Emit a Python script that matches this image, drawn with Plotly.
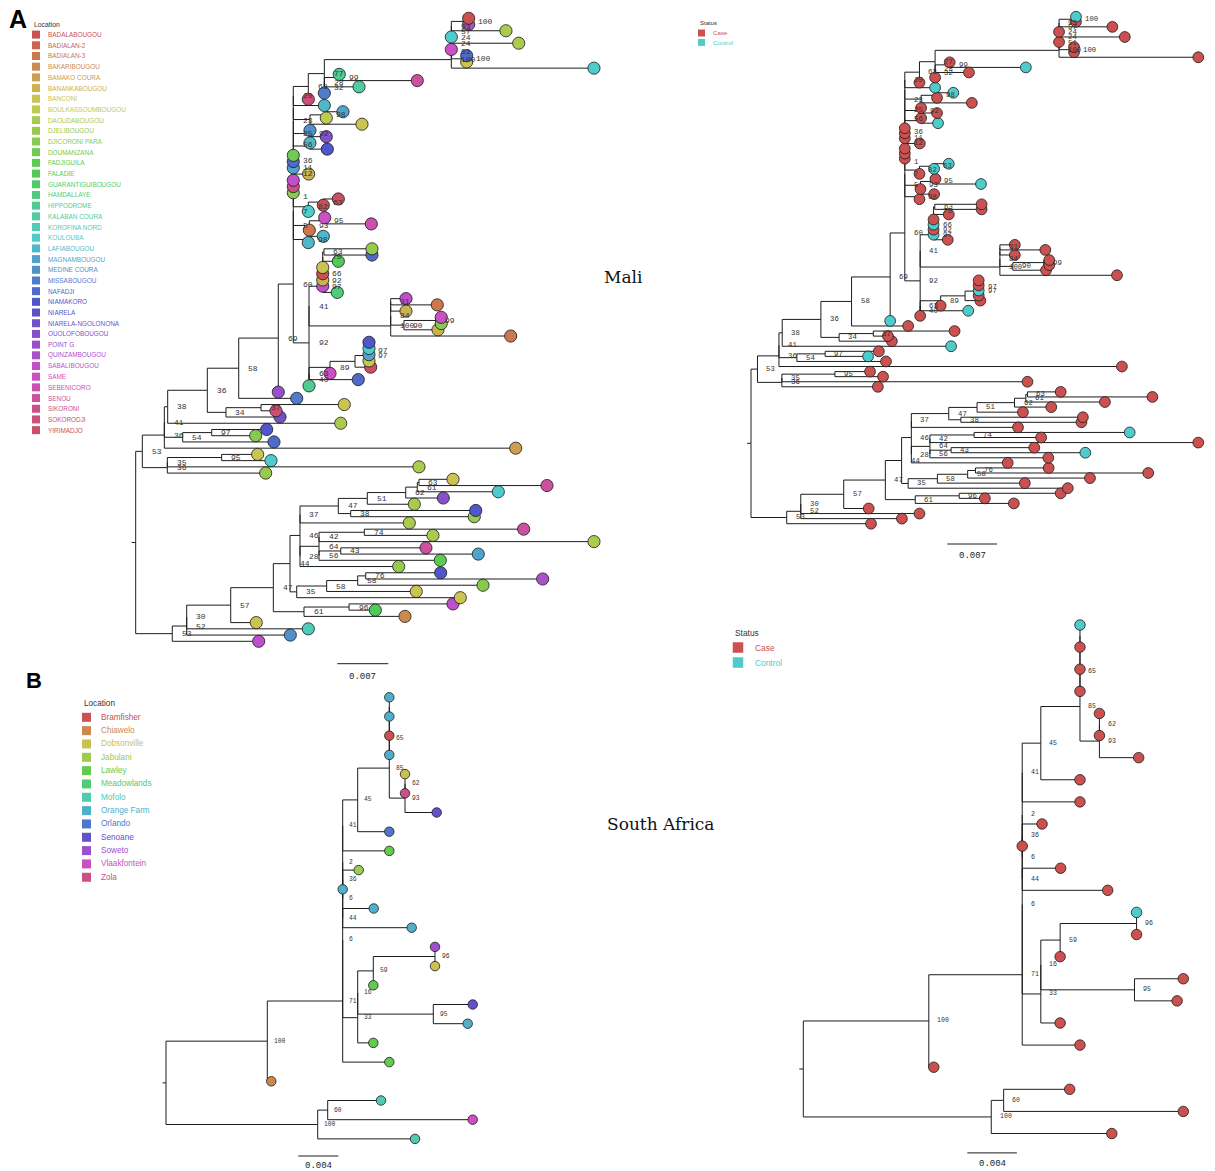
import colorsys
import plotly.graph_objects as go

W, H = 1215, 1171
BL_UNIT = 1e-4  # branch lengths in the Newick strings are in 1e-4 substitutions/site

# ---------------- Mali phylogeny (internal labels = bootstrap support) ----------------
MALI_TOP_CLADE = ("(((((((m00:0,m01:0)100:23.8,m02:75.0)93:0,m03:0)57:0,m04:92.5)24:0,m05:0)24:0,"
                  "(m06:0,m07:0)100:21.1)51:0,m08:195.8)100")
MALI_C1_CLADE = "(((m09:0,m10:107.1)99:20.5,m11:47.6)28:0,m12:0)32"
MALI_B1_CLADE = f"(({MALI_TOP_CLADE}:174.3,{MALI_C1_CLADE}:0)77:22.0,m13:0)63"
MALI_SPINE = ("(" * 14 + MALI_B1_CLADE +
              ":20.6,m14:42.6)20"
              ":0,((m15:22.9,m16:0)98:22.4,m17:71.4):22.9)"
              ":0,(m18:0,m19:22.4)92:22.9)23"
              ":0,(m20:0,m21:23.8):22.9)25"
              ":0,m22:0)56"
              ":0,m23:0)"
              ":0,m24:0)36"
              ":0,m25:21.1)11"
              ":0,m26:0)12"
              ":0,m27:0)"
              ":0,m28:0)"
              ":0,((m29:20.6,m30:0)63:20.6,m31:0)82:20.6)1"
              ":0,((m32:0,m33:64.0)95:21.1,m34:0)93:22.0)7"
              ":0,(m35:20.6,m36:0)98:20.6)5")
MALI_A9_CLADE = "(((((((m37:65.9,m38:65.9)63:1.7,m39:21.4)75:0,m40:0):0,m41:0):0,m42:0)66:0,m43:0)92:0,m44:20.0)97"
MALI_A10_CLADE = "((((m45:21.0,m46:63.9)31:0,m47:21.0):0,((m48:7.6,m49:7.6)99:43.6,m50:46.7)90:18.2)84:0,m51:164.7)100"
MALI_A8B_CLADE = "(((((((m52:0,m53:0):0,m54:0)97:0,m55:0)97:19.2,m56:21.5):34.3,m57:0)89:28.8,m58:67.6)63:0,m59:0)40"
MALI_A8_CLADE = f"(({MALI_A9_CLADE}:18.8,{MALI_A10_CLADE}:112.1)41:0,{MALI_A8B_CLADE}:0)92"
MALI_N7_CLADE = "((m62:114.3,m63:20.6)37:48.1,m64:74.2)34"
MALI_N3_CLADE = (f"((((({MALI_SPINE}:0,{MALI_A8_CLADE}:21.6)60:20.6,m60:0)69:54.3,m61:79.6)58:43.1,"
                 f"{MALI_N7_CLADE}:25.6)36:54.4,m65:237.5)38")
MALI_N4_CLADE = "((m66:75.5,m67:60.4)97:39.8,m68:125.3)54"
MALI_NB_CLADE = "(((m70:49.4,m71:67.7)95:74.6,m72:345.4)35:0,m73:135.0)36"
MALI_N1_CLADE = f"((({MALI_N3_CLADE}:4.6,{MALI_N4_CLADE}:25.2)41:0,m69:482.3)36:30.2,{MALI_NB_CLADE}:34.3)53"
MALI_S14_CLADE = "((((m74:46.7,m75:175.7)63:2.3,m76:111.2)61:15.9,m77:51.6)62:52.7,m78:64.5)51"
MALI_S15_CLADE = "(m79:171.6,m80:169.6)38"
MALI_S7A_CLADE = f"(({MALI_S14_CLADE}:39.8,{MALI_S15_CLADE}:17.0)47:52.6,m81:150.0)37"
MALI_S13_CLADE = "(((m82:218.7,m83:94.2)74:62.2,m84:377.4)42:0,((m85:117.0,m86:188.8)43:29.8,m87:166.5)56:0)64"
MALI_S8_CLADE = "((((m89:102.9,m90:242.9)76:11.0,m91:172.0)58:42.6,m92:123.0)58:41.1,m93:224.5)35"
MALI_S6_CLADE = "((m94:142.7,m95:36.1)96:61.8,m96:138.6)61"
MALI_S1_CLADE = (f"((((((({MALI_S7A_CLADE}:0,({MALI_S13_CLADE}:26.1,m88:135.5)28:0)46:13.7,"
                 f"{MALI_S8_CLADE}:9.2)44:22.9,{MALI_S6_CLADE}:42.1)47:58.5,m97:35.1)57:60.4,"
                 f"m98:166.9)30:0,m99:142.2)52:19.8,m100:118.6)53")
MALI_NEWICK = f"({MALI_N1_CLADE}:9.1,{MALI_S1_CLADE}:50.2);"

MALI_LOCATIONS = ["BADALABOUGOU", "BADIALAN-2", "BADIALAN-3", "BAKARIBOUGOU", "BAMAKO COURA",
                  "BANANKABOUGOU", "BANCONI", "BOULKASSOUMBOUGOU", "DAOUDABOUGOU", "DJELIBOUGOU",
                  "DJICORONI PARA", "DOUMANZANA", "FADJIGUILA", "FALADIE", "GUARANTIGUIBOUGOU",
                  "HAMDALLAYE", "HIPPODROME", "KALABAN COURA", "KOROFINA NORD", "KOULOUBA",
                  "LAFIABOUGOU", "MAGNAMBOUGOU", "MEDINE COURA", "MISSABOUGOU", "NAFADJI",
                  "NIAMAKORO", "NIARELA", "NIARELA-NGOLONONA", "OUOLOFOBOUGOU", "POINT G",
                  "QUINZAMBOUGOU", "SABALIBOUGOU", "SAME", "SEBENICORO", "SENOU",
                  "SIKORONI", "SOKORODJI", "YIRIMADJO"]
MALI_TIP_LOCATION = [
    "BADALABOUGOU", "QUINZAMBOUGOU", "DAOUDABOUGOU", "KOULOUBA", "DAOUDABOUGOU",
    "SAME", "NAFADJI", "BANCONI", "KOULOUBA", "HIPPODROME",
    "SENOU", "KALABAN COURA", "MISSABOUGOU", "SOKORODJI", "LAFIABOUGOU",
    "MAGNAMBOUGOU", "BOULKASSOUMBOUGOU", "BANCONI", "MEDINE COURA", "OUOLOFOBOUGOU",
    "LAFIABOUGOU", "NIAMAKORO", "DOUMANZANA", "NAFADJI", "MAGNAMBOUGOU",
    "BANANKABOUGOU", "SABALIBOUGOU", "SIKORONI", "DJICORONI PARA", "YIRIMADJO",
    "BADALABOUGOU", "KOULOUBA", "SAME", "SEBENICORO", "BADIALAN-3",
    "LAFIABOUGOU", "LAFIABOUGOU", "DJELIBOUGOU", "NAFADJI", "FALADIE",
    "BANCONI", "BADALABOUGOU", "BANANKABOUGOU", "SABALIBOUGOU", "HAMDALLAYE",
    "SABALIBOUGOU", "BADIALAN-3", "BANANKABOUGOU", "SAME", "DJICORONI PARA",
    "BANANKABOUGOU", "BADIALAN-3", "NIAMAKORO", "KOULOUBA", "MAGNAMBOUGOU",
    "BANCONI", "YIRIMADJO", "SAME", "NAFADJI", "HIPPODROME",
    "POINT G", "MISSABOUGOU", "BANCONI", "SOKORODJI", "NIARELA-NGOLONONA",
    "DAOUDABOUGOU", "NIAMAKORO", "DJICORONI PARA", "NAFADJI", "BAMAKO COURA",
    "BANCONI", "KOULOUBA", "DAOUDABOUGOU", "DJELIBOUGOU", "BANCONI",
    "SENOU", "KOULOUBA", "OUOLOFOBOUGOU", "DAOUDABOUGOU", "NIAMAKORO",
    "DJELIBOUGOU", "DAOUDABOUGOU", "SENOU", "DAOUDABOUGOU", "DAOUDABOUGOU",
    "SENOU", "MAGNAMBOUGOU", "FADJIGUILA", "DJELIBOUGOU", "NIAMAKORO",
    "QUINZAMBOUGOU", "DJICORONI PARA", "BANCONI", "BANCONI", "SABALIBOUGOU",
    "FALADIE", "BAKARIBOUGOU", "BANCONI", "KOROFINA NORD", "MEDINE COURA",
    "SABALIBOUGOU"]
MALI_CONTROL_TIPS = ["m00", "m10", "m14", "m15", "m21", "m29", "m30", "m33", "m41", "m43",
                     "m54", "m58", "m60", "m65", "m67", "m82", "m86"]

# ---------------- South Africa phylogeny ----------------
SA_C_CLADE = "(((((z00:0,z01:0):0,z02:0):0,z03:0)65:0,((z04:0,z05:0)62:0,z06:31.7)93:15.7)85:31.6,z07:31.6)45"
SA_R_CLADE = "((z09:16.0,z10:0)36:0,(z11:31.0,z12:69.0)44:0)6"
SA_D_CLADE = "((((z13:0,z14:0)96:61.7,z15:0)59:15.6,(z16:39.4,z17:34.4)95:75.6)16:0,z18:15.6)33"
SA_M_CLADE = "((z21:53.3,z22:145.0)60:10.0,z23:97.3)100"
SA_NEWICK = (f"(((((({SA_C_CLADE}:15.0,z08:46.6)41:0,{SA_R_CLADE}:0)2:0,{SA_D_CLADE}:15.0)6:0,"
             f"z19:46.6)71:75.4,z20:4.0)100:101.3,{SA_M_CLADE}:151.7);")

SA_LOCATIONS = ["Bramfisher", "Chiawelo", "Dobsonville", "Jabulani", "Lawley", "Meadowlands",
                "Mofolo", "Orange Farm", "Orlando", "Senoane", "Soweto", "Vlaakfontein", "Zola"]
SA_TIP_LOCATION = ["Orange Farm", "Orange Farm", "Bramfisher", "Orange Farm", "Dobsonville",
                   "Zola", "Senoane", "Orlando", "Lawley", "Jabulani", "Orange Farm",
                   "Orange Farm", "Orange Farm", "Soweto", "Dobsonville", "Lawley", "Senoane",
                   "Orange Farm", "Lawley", "Lawley", "Chiawelo", "Mofolo", "Vlaakfontein", "Mofolo"]
SA_CONTROL_TIPS = ["z00", "z13"]

STATUS_LEVELS = ["Case", "Control"]
SCALE_MALI = 0.007
SCALE_SA = 0.004


# ---------------- helpers ----------------
def parse_newick(s):
    pos = 0

    def node():
        nonlocal pos
        n = {"children": [], "name": "", "len": 0.0}
        if s[pos] == "(":
            pos += 1
            while True:
                n["children"].append(node())
                if s[pos] == ",":
                    pos += 1
                    continue
                pos += 1  # ')'
                break
        st = pos
        while s[pos] not in ":,);":
            pos += 1
        n["name"] = s[st:pos]
        if s[pos] == ":":
            pos += 1
            st = pos
            while s[pos] not in ",);":
                pos += 1
            n["len"] = float(s[st:pos])
        return n

    return node()


def layout_tree(root):
    nodes, tips = [], []

    def walk(n, x):
        n["x"] = x
        nodes.append(n)
        if n["children"]:
            for c in n["children"]:
                walk(c, x + c["len"] * BL_UNIT)
            n["y"] = sum(c["y"] for c in n["children"]) / len(n["children"])
        else:
            n["y"] = len(tips)
            tips.append(n)

    walk(root, 0.0)
    return nodes, tips


def palette(n):
    out = []
    for i in range(n):
        r, g, b = colorsys.hls_to_rgb(i / n, 0.555, 0.54)
        out.append("#%02x%02x%02x" % (round(r * 255), round(g * 255), round(b * 255)))
    return out


def px(xp):
    return xp / W


def py(yp):
    return 1 - yp / H


mali_root = parse_newick(MALI_NEWICK)
mali_nodes, mali_tips = layout_tree(mali_root)
sa_root = parse_newick(SA_NEWICK)
sa_nodes, sa_tips = layout_tree(sa_root)
assert [t["name"] for t in mali_tips] == [f"m{i:02d}" for i in range(101)]
assert [t["name"] for t in sa_tips] == [f"z{i:02d}" for i in range(24)]

MALI_COLORS = dict(zip(MALI_LOCATIONS, palette(len(MALI_LOCATIONS))))
SA_COLORS = dict(zip(SA_LOCATIONS, palette(len(SA_LOCATIONS))))
STATUS_COLORS = dict(zip(STATUS_LEVELS, palette(2)))

TREES = {
    "mali": (mali_root, mali_nodes, mali_tips, MALI_TIP_LOCATION, MALI_CONTROL_TIPS, MALI_COLORS),
    "sa": (sa_root, sa_nodes, sa_tips, SA_TIP_LOCATION, SA_CONTROL_TIPS, SA_COLORS),
}

PANELS = [
    dict(ax="", tree="mali", by="location", x0=135.7, pxu=7285.7, y0=18.3, dy=6.23, ms=12.2,
         lab=8.0, ldx=8.5, root_px=4, bar=(337.3, 663.7, 676.5), scale=SCALE_MALI),
    dict(ax="2", tree="mali", by="status", x0=751.0, pxu=7111.0, y0=16.7, dy=5.07, ms=10.8,
         lab=7.3, ldx=8.0, root_px=4, bar=(947.3, 544.0, 555.5), scale=SCALE_MALI),
    dict(ax="3", tree="sa", by="location", x0=166.0, pxu=10000.0, y0=697.3, dy=19.2, ms=9.5,
         lab=6.3, ldx=5.5, root_px=3.3, bar=(298.3, 1156.0, 1165.5), scale=SCALE_SA),
    dict(ax="4", tree="sa", by="status", x0=803.3, pxu=12390.0, y0=625.0, dy=22.11, ms=10.5,
         lab=6.6, ldx=7.5, root_px=4, bar=(967.3, 1152.9, 1163.6), scale=SCALE_SA),
]

fig = go.Figure()
annotations = []
shapes = []
layout_axes = {}

for p in PANELS:
    root, nodes, tips, tip_loc, controls, loc_colors = TREES[p["tree"]]
    xa, ya = "x" + p["ax"], "y" + p["ax"]
    # edges
    xs, ys = [], []
    for n in nodes:
        for c in n["children"]:
            xs += [n["x"], n["x"], c["x"], None]
            ys += [n["y"], c["y"], c["y"], None]
    xs += [-p["root_px"] / p["pxu"], 0, None]
    ys += [root["y"], root["y"], None]
    fig.add_trace(go.Scatter(x=xs, y=ys, mode="lines", xaxis=xa, yaxis=ya,
                             line=dict(color="#1c1c1c", width=1), hoverinfo="skip",
                             showlegend=False))
    # tips
    if p["by"] == "location":
        cols = [loc_colors[l] for l in tip_loc]
        hov = tip_loc
    else:
        stat = ["Control" if t["name"] in controls else "Case" for t in tips]
        cols = [STATUS_COLORS[s] for s in stat]
        hov = stat
    order = list(range(len(tips)))[::-1]
    fig.add_trace(go.Scatter(
        x=[tips[i]["x"] for i in order], y=[tips[i]["y"] for i in order],
        mode="markers", xaxis=xa, yaxis=ya, cliponaxis=False,
        marker=dict(size=p["ms"], color=[cols[i] for i in order],
                    line=dict(color="#1a1a1a", width=0.8)),
        text=[hov[i] for i in order], hoverinfo="text", showlegend=False))
    # support labels
    for n in nodes:
        if n["children"] and n["name"]:
            annotations.append(dict(x=n["x"], y=n["y"], xref=xa, yref=ya, text=n["name"],
                                    showarrow=False, xanchor="left", yanchor="middle",
                                    xshift=p["ldx"], borderpad=0,
                                    font=dict(family="Liberation Mono", size=p["lab"],
                                              color="#333333")))
    # axes mapping
    layout_axes["xaxis" + p["ax"]] = dict(
        domain=[0, 1], range=[-p["x0"] / p["pxu"], (W - p["x0"]) / p["pxu"]],
        visible=False, fixedrange=True, anchor=ya)
    layout_axes["yaxis" + p["ax"]] = dict(
        domain=[0, 1], range=[(H - p["y0"]) / p["dy"], -p["y0"] / p["dy"]],
        visible=False, fixedrange=True, anchor=xa)
    # scale bar
    bx, by, ty = p["bar"]
    xstart = (bx - p["x0"]) / p["pxu"]
    shapes.append(dict(type="line", xref=xa, yref="paper", x0=xstart, x1=xstart + p["scale"],
                       y0=py(by), y1=py(by), line=dict(color="#1c1c1c", width=1)))
    annotations.append(dict(x=xstart + p["scale"] / 2, y=py(ty), xref=xa, yref="paper",
                            text=f"{p['scale']:.3f}", showarrow=False, xanchor="center",
                            yanchor="middle",
                            font=dict(family="Liberation Mono", size=9, color="#222222")))


def legend(title, items, colors, x_sq, y_first, step, sq, x_text, title_y, fsize, tsize):
    annotations.append(dict(x=px(x_sq - sq / 2), y=py(title_y), xref="paper", yref="paper",
                            text=title, showarrow=False, xanchor="left", yanchor="middle",
                            font=dict(family="Liberation Sans", size=tsize, color="#333333")))
    for k, name in enumerate(items):
        yc = y_first + step * k
        shapes.append(dict(type="rect", xref="paper", yref="paper",
                           x0=px(x_sq - sq / 2), x1=px(x_sq + sq / 2),
                           y0=py(yc + sq / 2), y1=py(yc - sq / 2),
                           fillcolor=colors[name], line=dict(width=0)))
        annotations.append(dict(x=px(x_text), y=py(yc), xref="paper", yref="paper", text=name,
                                showarrow=False, xanchor="left", yanchor="middle",
                                font=dict(family="Liberation Sans", size=fsize,
                                          color=colors[name])))


legend("Location", MALI_LOCATIONS, MALI_COLORS, 36.0, 34.6, 10.69, 8, 45.5, 24.3, 6.4, 6.8)
legend("Status", STATUS_LEVELS, STATUS_COLORS, 701.5, 33.0, 9.4, 7, 711.0, 22.6, 6.2, 6.0)
legend("Location", SA_LOCATIONS, SA_COLORS, 86.5, 717.3, 13.33, 9, 98.5, 704.0, 8.2, 8.2)
legend("Status", STATUS_LEVELS, STATUS_COLORS, 738.0, 647.5, 15.0, 10.5, 752.5, 632.7, 8.4, 8.4)

# panel letters and country titles
annotations.append(dict(x=px(17.5), y=py(18.5), xref="paper", yref="paper", text="<b>A</b>",
                        showarrow=False, xanchor="center", yanchor="middle",
                        font=dict(family="Liberation Sans", size=25, color="#000000")))
annotations.append(dict(x=px(33.5), y=py(680.0), xref="paper", yref="paper", text="<b>B</b>",
                        showarrow=False, xanchor="center", yanchor="middle",
                        font=dict(family="Liberation Sans", size=22, color="#000000")))
annotations.append(dict(x=px(623.5), y=py(277.5), xref="paper", yref="paper", text="Mali",
                        showarrow=False, xanchor="center", yanchor="middle",
                        font=dict(family="DejaVu Serif", size=17, color="#111111")))
annotations.append(dict(x=px(661.0), y=py(823.5), xref="paper", yref="paper", text="South Africa",
                        showarrow=False, xanchor="center", yanchor="middle",
                        font=dict(family="DejaVu Serif", size=17, color="#111111")))

fig.update_layout(width=W, height=H, autosize=False,
                  margin=dict(l=0, r=0, t=0, b=0, pad=0),
                  paper_bgcolor="white", plot_bgcolor="rgba(0,0,0,0)",
                  showlegend=False, annotations=annotations, shapes=shapes,
                  **layout_axes)

fig.write_html("out.html", include_plotlyjs=True, full_html=True,
               config={"displayModeBar": False})
with open("out.html", "r", encoding="utf-8") as f:
    html = f.read()
html = html.replace("<body>", '<body style="margin:0;padding:0;overflow:hidden">', 1)
with open("out.html", "w", encoding="utf-8") as f:
    f.write(html)
